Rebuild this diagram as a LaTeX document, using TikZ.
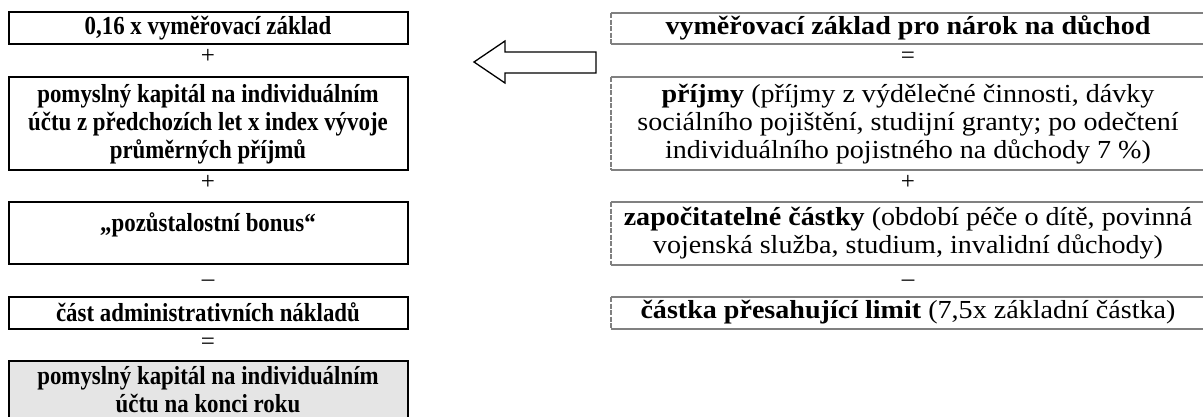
\documentclass[tikz,border=0pt]{standalone}
\usepackage{fontspec}
\setmainfont{Liberation Serif}
\newfontfamily\leftfont[FakeStretch=0.88]{Liberation Serif}
\newfontfamily\rightfont[FakeStretch=1.08]{Liberation Serif}
\begin{document}
\begin{tikzpicture}[x=1pt,y=-1pt,
  lbox/.style={draw=black,line width=2pt},
  lgray/.style={draw=black,line width=2pt,fill=black!10},
  rline/.style={draw=black!50,line width=1.4pt},
  redge/.style={draw=black!50,line width=2.4pt,dash pattern=on 5pt off 1.5pt},
  txt/.style={inner sep=0pt,align=center,font=\rightfont\fontsize{26}{28}\selectfont},
  btxt/.style={inner sep=0pt,align=center,font=\leftfont\fontsize{26}{28}\selectfont\bfseries},
  op/.style={inner sep=0pt,anchor=base,font=\fontsize{25}{28}\selectfont},
  blockarrow/.style={draw=black,line width=1.3pt,fill=white,line join=miter}]
\useasboundingbox (0,0) rectangle (1203,416);
\clip (0,0) rectangle (1203,416);
\fill[white] (0,0) rectangle (1203,416);
% left column boxes
\draw[lbox] (9,12) rectangle (408,44);
\draw[lbox] (9,77) rectangle (408,170);
\draw[lbox] (9,202) rectangle (408,264);
\draw[lbox] (9,297) rectangle (408,329);
\draw[lgray] (9,361) rectangle (408,440);
\node[btxt] (l1) at (208,28) {0,16 x vyměřovací základ};
\node[btxt] (l2) at (208,124) {pomyslný kapitál na individuálním\\účtu z předchozích let x index vývoje\\průměrných příjmů};
\node[btxt] (l3) at (208,225) {„pozůstalostní bonus“};
\node[btxt] (l4) at (208,312) {část administrativních nákladů};
\node[btxt] (l5) at (208,390) {pomyslný kapitál na individuálním\\účtu na konci roku};
\node[op] (lo1) at (208,63) {+};
\node[op] (lo2) at (208,189) {+};
\node[op] (lo3) at (208,286) {–};
\node[op] (lo4) at (208,349) {=};
% block arrow
\draw[blockarrow] (474,62) -- (505,41) -- (505,52) -- (596,52) -- (596,73) -- (505,73) -- (505,83) -- cycle;
% right column boxes
\foreach \t/\b in {13/44,77/170,202/265,297/329}{
  \draw[rline] (611,\t) -- (1210,\t);
  \draw[rline] (611,\b) -- (1210,\b);
  \draw[redge] (611,\t) -- (611,\b);
}
\node[txt] (r1) at (908,28) {\textbf{vyměřovací základ pro nárok na důchod}};
\node[txt] (r2) at (908,124) {\textbf{příjmy} (příjmy z výdělečné činnosti, dávky\\sociálního pojištění, studijní granty; po odečtení\\individuálního pojistného na důchody 7 \%)};
\node[txt] (r3) at (908,233) {\textbf{započitatelné částky} (období péče o dítě, povinná\\vojenská služba, studium, invalidní důchody)};
\node[txt] (r4) at (908,312) {\textbf{částka přesahující limit} (7,5x základní částka)};
\node[op] (ro1) at (908,63) {=};
\node[op] (ro2) at (908,189) {+};
\node[op] (ro3) at (908,286) {–};
\end{tikzpicture}
\end{document}
